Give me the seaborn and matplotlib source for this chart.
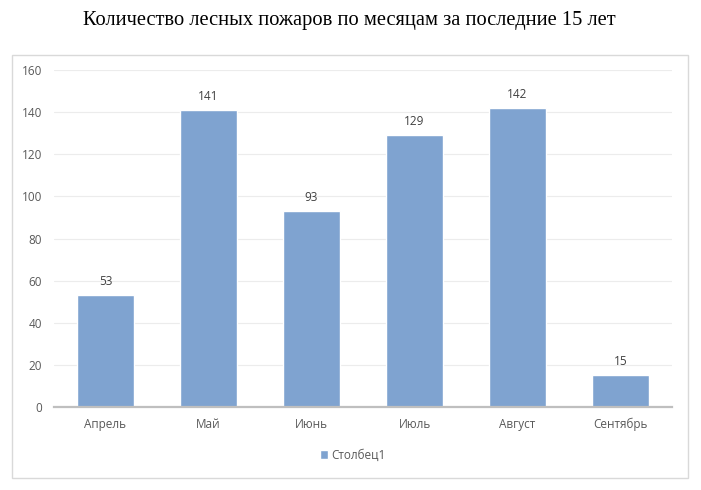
import matplotlib
matplotlib.use("Agg")
import matplotlib.pyplot as plt
import seaborn as sns
import pandas as pd
from matplotlib.patches import Rectangle, Patch

months = ["Апрель", "Май", "Июнь", "Июль", "Август", "Сентябрь"]
values = [53, 141, 93, 129, 142, 15]
series_name = "Столбец1"
title = "Количество лесных пожаров по месяцам за последние 15 лет"

sns.set_theme(style="white")
plt.rcParams["font.family"] = ["Open Sans", "DejaVu Sans"]

df = pd.DataFrame({"month": months, "value": values})
bar_color = "#7FA3D0"
text_color = "#595959"
fs = 8.5

fig = plt.figure(figsize=(7.01, 4.90), dpi=100)
ax = fig.add_axes([54/701, 1-407/490, (672-54)/701, (407-70)/490])

sns.barplot(data=df, x="month", y="value", color=bar_color, width=0.55,
            saturation=1, ax=ax, zorder=3)

ax.set_ylim(0, 160)
ax.set_yticks(range(0, 161, 20))
ax.set_xlim(-0.5, len(months) - 0.5)
ax.grid(axis="y", color="#ececec", linewidth=0.8, zorder=0)
ax.grid(axis="x", visible=False)
for s in ["top", "right", "left"]:
    ax.spines[s].set_visible(False)
ax.spines["bottom"].set_color("#bfbfbf")
ax.spines["bottom"].set_linewidth(1.6)
ax.spines["bottom"].set_zorder(4)
ax.tick_params(axis="both", length=0, labelsize=fs, colors=text_color)
ax.tick_params(axis="x", pad=8)
ax.tick_params(axis="y", pad=8.5)
ax.set_xlabel("")
ax.set_ylabel("")

for cont in ax.containers:
    ax.bar_label(cont, labels=[str(v) for v in values], padding=5,
                 fontsize=fs, color="#404040")

fig.text(349/701, 1-20/490, title, ha="center", va="center",
         fontsize=14.8, family=["Liberation Serif", "DejaVu Serif"], color="black")

fig.patches.append(Rectangle((12/701, 1-478/490), (688-12)/701, (478-55)/490,
                             transform=fig.transFigure, fill=False,
                             edgecolor="#d9d9d9", linewidth=1.0))

leg = fig.legend(handles=[Patch(facecolor=bar_color, label=series_name)],
                 loc="center", bbox_to_anchor=(353/701, 1-455/490), frameon=False,
                 fontsize=fs, handlelength=0.7, handleheight=0.7, handletextpad=0.3)
for t in leg.get_texts():
    t.set_color(text_color)

fig.savefig("out.png", dpi=100)
